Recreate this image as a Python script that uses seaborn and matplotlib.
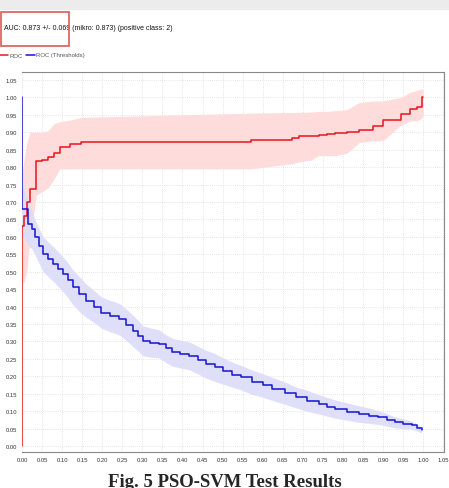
import numpy as np
import matplotlib
matplotlib.use("Agg")
import matplotlib.pyplot as plt
import seaborn as sns
from matplotlib.patches import Rectangle
from matplotlib.lines import Line2D

# ROC curve (mean) with spread band
roc_x = [0.0, 0.0, 0.005, 0.012, 0.02, 0.036, 0.05, 0.065, 0.08, 0.094, 0.119, 0.148,
         0.57, 0.673, 0.69, 0.72, 0.74, 0.76, 0.78, 0.81, 0.84, 0.875, 0.9, 0.944,
         0.968, 0.985, 0.996, 1.0]
roc_y = [0.0, 0.632, 0.66, 0.70, 0.737, 0.818, 0.822, 0.828, 0.84, 0.857, 0.866, 0.871,
         0.878, 0.885, 0.888, 0.89, 0.893, 0.895, 0.898, 0.902, 0.907, 0.919, 0.935, 0.952,
         0.967, 0.972, 1.0, 1.0]
roc_lo = [0.0, 0.47, 0.47, 0.50, 0.60, 0.72, 0.73, 0.74, 0.766, 0.795, 0.795, 0.795,
          0.795, 0.81, 0.815, 0.82, 0.833, 0.833, 0.833, 0.84, 0.87, 0.876, 0.876, 0.92,
          0.933, 0.933, 0.94, 0.95]
roc_hi = [0.0, 0.78, 0.82, 0.87, 0.90, 0.90, 0.90, 0.905, 0.925, 0.93, 0.935, 0.943,
          0.955, 0.957, 0.957, 0.958, 0.96, 0.96, 0.962, 0.965, 0.985, 0.99, 0.99, 1.0,
          1.015, 1.02, 1.025, 1.02]

# ROC (Thresholds) curve with spread
thr_x = [0.0, 0.0, 0.016, 0.024, 0.032, 0.042, 0.053, 0.065, 0.078, 0.09,
         0.102, 0.115, 0.127, 0.143, 0.16, 0.18, 0.198, 0.22, 0.243, 0.26,
         0.276, 0.29, 0.301, 0.32, 0.342, 0.358, 0.375, 0.395, 0.417, 0.438,
         0.458, 0.48, 0.5, 0.524, 0.545, 0.574, 0.6, 0.624, 0.655, 0.682,
         0.71, 0.74, 0.76, 0.781, 0.81, 0.839, 0.865, 0.888, 0.91, 0.93,
         0.95, 0.971, 0.985, 0.996]
thr_y = [1.0, 0.68, 0.637, 0.622, 0.60, 0.575, 0.55, 0.536, 0.522, 0.508,
         0.493, 0.475, 0.455, 0.436, 0.417, 0.40, 0.383, 0.373, 0.364, 0.348,
         0.331, 0.316, 0.302, 0.297, 0.293, 0.28, 0.269, 0.264, 0.259, 0.247,
         0.235, 0.226, 0.216, 0.205, 0.197, 0.183, 0.174, 0.164, 0.152, 0.14,
         0.13, 0.12, 0.113, 0.106, 0.099, 0.092, 0.087, 0.082, 0.075, 0.068,
         0.064, 0.06, 0.053, 0.046]
thr_sd = [0.0, 0.07, 0.065, 0.055, 0.05, 0.05, 0.05, 0.05, 0.05, 0.05,
          0.05, 0.05, 0.05, 0.05, 0.048, 0.046, 0.045, 0.045, 0.045, 0.045,
          0.045, 0.044, 0.043, 0.042, 0.04, 0.04, 0.04, 0.04, 0.04, 0.04,
          0.04, 0.04, 0.038, 0.036, 0.035, 0.035, 0.034, 0.033, 0.032, 0.03,
          0.03, 0.028, 0.027, 0.026, 0.025, 0.024, 0.022, 0.02, 0.018, 0.016,
          0.014, 0.012, 0.01, 0.008]

ticks = np.round(np.arange(0, 1.051, 0.05), 2)
tick_labels = ["%.2f" % t for t in ticks]

title_text = "AUC: 0.873 +/- 0.069 (mikro: 0.873) (positive class: 2)"
caption = "Fig. 5 PSO-SVM Test Results"

sns.set_style("white")
plt.rcParams["font.family"] = ["Liberation Sans", "DejaVu Sans"]

W, H = 449, 489
fig = plt.figure(figsize=(W / 100, H / 100), dpi=100)
ax = fig.add_axes([22 / W, 1 - 453 / H, (444 - 22) / W, (453 - 73) / H])

thr_x_a = np.array(thr_x)
thr_y_a = np.array(thr_y)
thr_sd_a = np.array(thr_sd)

# bands drawn smooth (linear), lines drawn as steps
ax.fill_between(roc_x[1:], roc_lo[1:], roc_hi[1:], color="#ffdcdc", lw=0, zorder=1)
ax.fill_between(thr_x_a[1:], (thr_y_a - thr_sd_a)[1:], (thr_y_a + thr_sd_a)[1:],
                color="#dcdcfa", lw=0, zorder=1, alpha=0.9)

sns.lineplot(x=roc_x, y=roc_y, ax=ax, color="#e8141e", lw=1.1, drawstyle="steps-post",
             sort=False, estimator=None, zorder=3)
sns.lineplot(x=thr_x, y=thr_y, ax=ax, color="#1414d2", lw=1.1, drawstyle="steps-post",
             sort=False, estimator=None, zorder=3)

ax.set_xlim(0, 1.052)
ax.set_ylim(-0.017, 1.073)
ax.set_xticks(ticks)
ax.set_xticklabels(tick_labels)
ax.set_yticks(ticks)
ax.set_yticklabels(tick_labels)
ax.tick_params(axis="both", labelsize=4.2, colors="#333333", length=2, width=0.5, pad=1.5)
ax.grid(True, color="#dddddd", linestyle=(0, (1, 1.5)), linewidth=0.6)
ax.set_axisbelow(True)
for side in ["top", "right", "bottom"]:
    ax.spines[side].set_color("#888888")
    ax.spines[side].set_linewidth(0.8)
ax.spines["left"].set_visible(False)
ax.set_xlabel("")
ax.set_ylabel("")

# header strip, title and highlight box
fig.patches.append(Rectangle((0, 1 - 10 / H), 1, 10 / H, transform=fig.transFigure,
                             color="#ececec", zorder=0))
fig.text(4 / W, 1 - 28 / H, title_text, fontsize=5.0, color="#111111", va="center")
fig.patches.append(Rectangle((1 / W, 1 - 47 / H), 68 / W, 34 / H, transform=fig.transFigure,
                             fill=False, edgecolor="#e06666", lw=1.3, zorder=5))

# legend
fig.add_artist(Line2D([0, 8 / W], [1 - 56 / H] * 2, color="#e8141e", lw=1.1))
fig.text(9 / W, 1 - 56 / H, "ROC", fontsize=4.3, color="#555555", va="center")
fig.add_artist(Line2D([26 / W, 35 / W], [1 - 56 / H] * 2, color="#1414d2", lw=1.1))
fig.text(36 / W, 1 - 56 / H, "ROC (Thresholds)", fontsize=4.3, color="#555555", va="center")

fig.text(225 / W, 1 - 474 / H, caption, fontsize=13.5, fontweight="bold",
         family="Liberation Serif", ha="center", va="top")

fig.savefig("out.png", dpi=100)
